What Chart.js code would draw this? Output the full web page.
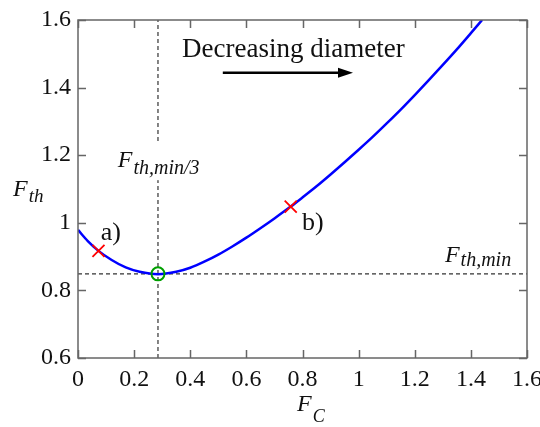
<!DOCTYPE html>
<html>
<head>
<meta charset="utf-8">
<script src="https://cdn.jsdelivr.net/npm/chart.js@4.4.1/dist/chart.umd.min.js"></script>
<style>
  html, body { margin: 0; padding: 0; background: #fff; }
  canvas { display: block; }
</style>
</head>
<body>
<canvas id="chartCanvas" width="540" height="427"></canvas>
<script>
// ===============================
// data
// ===============================
const fcValues = [0, 0.035, 0.073, 0.12, 0.17, 0.22, 0.285, 0.35, 0.4, 0.45, 0.5, 0.55, 0.6, 0.65, 0.7,
  0.758, 0.8, 0.85, 0.9, 0.95, 1.0, 1.05, 1.1, 1.15, 1.2, 1.25, 1.3, 1.35, 1.4, 1.44];
const fthValues = [0.979, 0.946, 0.917, 0.890, 0.868, 0.855, 0.848, 0.855, 0.867, 0.885, 0.906, 0.930, 0.956,
  0.984, 1.013, 1.048, 1.075, 1.108, 1.143, 1.179, 1.216, 1.254, 1.294, 1.335, 1.378, 1.422, 1.467, 1.513,
  1.561, 1.6];

// marked cases a) and b)
const caseNames = ["a)", "b)"];
const caseFc = [0.073, 0.758];
const caseFth = [0.917, 1.048];

// minimum of the curve
const minFc = 0.285;
const minFth = 0.849;

const xTicks = [0, 0.2, 0.4, 0.6, 0.8, 1, 1.2, 1.4, 1.6];
const xTickLabels = ["0", "0.2", "0.4", "0.6", "0.8", "1", "1.2", "1.4", "1.6"];
const yTicks = [0.6, 0.8, 1, 1.2, 1.4, 1.6];
const yTickLabels = ["0.6", "0.8", "1", "1.2", "1.4", "1.6"];

const SERIF = '"Liberation Serif", "DejaVu Serif", serif';

// ===============================
// helpers
// ===============================
function drawSub(c, x, y, main, sub, mainSize, subSize, drop) {
  c.font = "italic " + mainSize + "px " + SERIF;
  c.fillText(main, x, y);
  const w = c.measureText(main).width;
  c.font = "italic " + subSize + "px " + SERIF;
  c.fillText(sub, x + w + 1, y + drop);
}

// frame, inward ticks, texts and the arrow
const decorPlugin = {
  id: "decor",
  afterDraw(chart) {
    const c = chart.ctx;
    const a = chart.chartArea;
    const xs = chart.scales.x;
    const ys = chart.scales.y;
    const px = v => xs.getPixelForValue(v);
    const py = v => ys.getPixelForValue(v);

    c.save();
    // label over the vertical dashed line
    c.fillStyle = "#fff";
    c.fillRect(px(0.1416) - 4, py(1.1646) - 25, 100, 38);

    c.strokeStyle = "#666";
    c.lineWidth = 1.5;
    c.strokeRect(a.left, a.top, a.right - a.left, a.bottom - a.top);
    c.beginPath();
    xTicks.forEach(v => {
      const x = Math.round(px(v)) + 0.5;
      c.moveTo(x, a.bottom); c.lineTo(x, a.bottom - 8);
      c.moveTo(x, a.top); c.lineTo(x, a.top + 8);
    });
    yTicks.forEach(v => {
      const y = Math.round(py(v)) + 0.5;
      c.moveTo(a.left, y); c.lineTo(a.left + 8, y);
      c.moveTo(a.right, y); c.lineTo(a.right - 8, y);
    });
    c.stroke();

    c.fillStyle = "#111";
    c.textAlign = "left";
    c.textBaseline = "alphabetic";

    // axis titles
    drawSub(c, 297, 411, "F", "C", 24, 18, 11);
    drawSub(c, 13, 195.5, "F", "th", 24, 19, 6);

    // annotations
    c.font = "27px " + SERIF;
    c.fillText("Decreasing diameter", px(0.371), py(1.491));
    caseNames.forEach((name, i) => {
      const off = i === 0 ? [0.008, 0.033] : [0.04, -0.069];
      c.font = "26px " + SERIF;
      c.fillText(name, px(caseFc[i] + off[0]), py(caseFth[i] + off[1]));
    });
    drawSub(c, px(0.1416), py(1.1646), "F", "th,min/3", 24, 20, 7);
    drawSub(c, px(1.3075), py(0.8847), "F", "th,min", 24, 20, 4);

    // arrow
    const ay = py(1.444);
    const x0 = px(0.516), x1 = px(0.98);
    c.strokeStyle = "#000";
    c.fillStyle = "#000";
    c.lineWidth = 2.5;
    c.beginPath();
    c.moveTo(x0, ay); c.lineTo(x1 - 10, ay);
    c.stroke();
    c.beginPath();
    c.moveTo(x1, ay);
    c.lineTo(x1 - 15, ay - 5);
    c.lineTo(x1 - 15, ay + 5);
    c.closePath();
    c.fill();
    c.restore();
  }
};

// ===============================
// chart
// ===============================
const curve = fcValues.map((x, i) => ({ x, y: fthValues[i] }));
const cases = caseFc.map((x, i) => ({ x, y: caseFth[i] }));

const ctx = document.getElementById("chartCanvas").getContext("2d");

new Chart(ctx, {
  type: "line",
  data: {
    datasets: [
      {
        data: [{ x: minFc, y: minFth }],
        showLine: false,
        pointStyle: "circle",
        pointRadius: 6.5,
        pointBorderColor: "#00a000",
        pointBackgroundColor: "rgba(0,0,0,0)",
        pointBorderWidth: 2
      },
      {
        data: cases,
        showLine: false,
        pointStyle: "crossRot",
        pointRadius: 8.5,
        pointBorderColor: "#ff0000",
        pointBorderWidth: 1.8
      },
      {
        data: curve,
        borderColor: "#0000ff",
        borderWidth: 2.5,
        pointRadius: 0,
        cubicInterpolationMode: "monotone",
        fill: false
      },
      {
        data: [{ x: 0, y: minFth }, { x: 1.6, y: minFth }],
        borderColor: "#333",
        borderWidth: 1.2,
        borderDash: [4, 3],
        pointRadius: 0
      },
      {
        data: [{ x: minFc, y: 0.6 }, { x: minFc, y: 1.6 }],
        borderColor: "#333",
        borderWidth: 1.2,
        borderDash: [4, 3],
        pointRadius: 0
      }
    ]
  },
  options: {
    responsive: false,
    animation: false,
    devicePixelRatio: 1,
    layout: { padding: { top: 20, right: 13, left: 0, bottom: 0 } },
    plugins: { legend: { display: false }, tooltip: { enabled: false } },
    scales: {
      x: {
        type: "linear",
        min: 0,
        max: 1.6,
        afterBuildTicks: s => { s.ticks = xTicks.map(v => ({ value: v })); },
        afterFit: s => { s.height = 69; s.paddingLeft = 0; s.paddingRight = 0; },
        grid: { display: false, drawTicks: false },
        border: { display: false },
        ticks: {
          autoSkip: false,
          maxRotation: 0,
          padding: 7,
          color: "#111",
          font: { family: SERIF, size: 24 },
          callback: (v, i) => xTickLabels[i]
        }
      },
      y: {
        type: "linear",
        min: 0.6,
        max: 1.6,
        afterBuildTicks: s => { s.ticks = yTicks.map(v => ({ value: v })); },
        afterFit: s => { s.width = 78; s.paddingTop = 0; s.paddingBottom = 0; },
        grid: { display: false, drawTicks: false },
        border: { display: false },
        ticks: {
          autoSkip: false,
          padding: 7,
          color: "#111",
          font: { family: SERIF, size: 24 },
          callback: (v, i) => yTickLabels[i]
        }
      }
    }
  },
  plugins: [decorPlugin]
});
</script>
</body>
</html>
